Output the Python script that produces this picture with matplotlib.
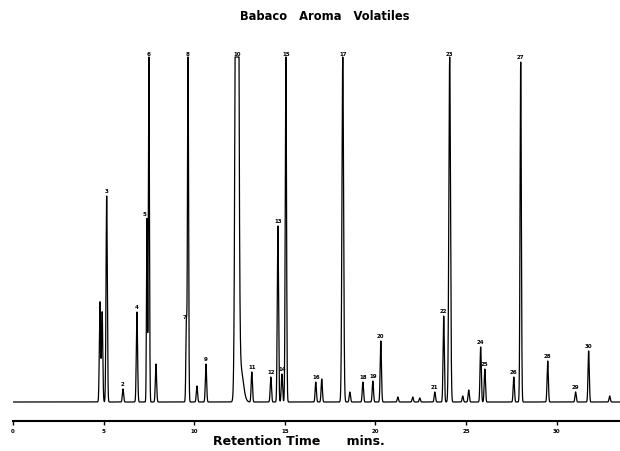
import matplotlib.pyplot as plt
import numpy as np

# retention times (min) and peak heights (chart units)
peak_times = [4.80, 4.92, 5.17, 6.07, 6.84, 7.39, 7.50, 7.89, 9.57, 9.66, 10.15, 10.65,
              12.36, 12.55, 13.18, 14.23, 14.62, 14.84, 15.06, 16.71, 17.04, 18.20, 18.59,
              19.31, 19.86, 20.30, 21.24, 22.06, 22.45, 23.28, 23.77, 24.10, 24.82, 25.15,
              25.81, 26.04, 27.64, 28.02, 29.51, 31.05, 31.77, 32.93]
peak_heights = [100, 90, 206, 13, 90, 183, 348, 38, 80, 348, 16, 38,
                1200, 35, 30, 25, 176, 28, 345, 20, 23, 345, 10,
                20, 21, 61, 5, 5, 4, 10, 86, 345, 6, 12,
                55, 33, 25, 340, 41, 10, 51, 6]
peak_labels = ['', '', '3', '2', '4', '5', '6', '', '7', '8', '', '9',
               '10', '', '11', '12', '13', '14', '15', '16', '', '17', '',
               '18', '19', '20', '', '', '', '21', '22', '23', '', '',
               '24', '25', '26', '27', '28', '29', '30', '']
peak_widths = {12.36: 0.07, 12.55: 0.15, 7.39: 0.025, 7.50: 0.03,
               9.57: 0.03, 9.66: 0.03, 18.20: 0.045, 24.10: 0.045}
saturation = 343

ticks = [0, 5, 10, 15, 20, 25, 30]

t = np.linspace(0, 33.5, 30000)
signal = np.zeros_like(t)
for pt, ph in zip(peak_times, peak_heights):
    s = peak_widths.get(pt, 0.035)
    signal += ph * np.exp(-0.5 * ((t - pt) / s) ** 2)
signal = np.minimum(signal, saturation + 2)

fig = plt.figure(figsize=(6.2, 4.52), dpi=100)
ax = fig.add_axes([13 / 620, 30 / 452, 607 / 620, 372 / 452])
ax.plot(t, signal, color='black', lw=0.9)

for pt, ph, lab in zip(peak_times, peak_heights, peak_labels):
    if lab:
        dx = -0.12 if lab in ('5', '7') else 0
        ax.text(pt + dx, min(ph, saturation) + 3, lab, ha='center', va='bottom',
                fontsize=4, fontweight='bold')

ax.set_xlim(0, 33.5)
ax.set_ylim(-19, 353)
for side in ['top', 'right', 'left']:
    ax.spines[side].set_visible(False)
ax.spines['bottom'].set_linewidth(1.5)
ax.set_yticks([])
ax.set_xticks(ticks)
ax.set_xticklabels([str(v) for v in ticks], fontsize=4, fontweight='bold')
ax.tick_params(axis='x', direction='out', length=3, width=1, pad=2)

fig.text(325 / 620, 1 - 17 / 452, 'Babaco   Aroma   Volatiles', ha='center', va='center',
         fontsize=8.3, fontweight='bold')
fig.text(299 / 620, 1 - 442 / 452, 'Retention Time      mins.', ha='center', va='center',
         fontsize=9, fontweight='bold')

plt.savefig('out.png', dpi=100)
